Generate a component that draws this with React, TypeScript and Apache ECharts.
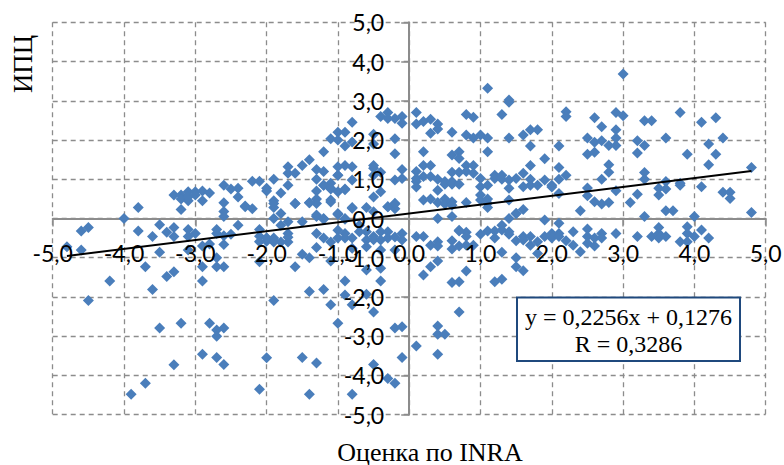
import React, { useEffect, useRef } from "react";
import * as echarts from "echarts";

type P = [number, number];

const AXIS_MIN = -5;
const AXIS_MAX = 5;
const X_TITLE = "Оценка по INRA";
const Y_TITLE = "ИПЦ";
const EQUATION = "y = 0,2256x + 0,1276";
const CORRELATION = "R = 0,3286";
const trendX = [-4.8, 4.8];
const trendY = [-0.955, 1.21];

const upperLeft: P[] = [
  [-4, 0], [-3.8, 0.28], [-3.2, 0.23], [-2.9, 0.45], [-3.3, 0.6], [-3.2, 0.6], [-3.2, 0.5], [-3.1, 0.68], [-3.1, 0.45], [-3.1, 0.55],
  [-3, 0.68], [-3, 0.6], [-2.9, 0.7], [-2.8, 0.65], [-2.6, 0.85], [-2.5, 0.75], [-2.4, 0.77], [-2.4, 0.55], [-2.6, 0.4], [-2.6, 0.18],
  [-2.6, 0.05], [-2.3, 0.3], [-2.2, 0.25], [-2.2, 0.95], [-2.1, 0.95], [-1.9, 1], [-2, 0.77], [-2, 0.7], [-1.9, 0.45], [-1.9, 0.28],
  [-1.9, 0], [-1.8, 0.65], [-1.7, 1.32], [-1.7, 1.15], [-1.6, 1.15], [-1.5, 1.35], [-1.4, 1.5], [-1.3, 1.25], [-1.3, 1], [-1.2, 1.2],
  [-1.2, 1.7], [-1.2, 0.85], [-1.1, 0.9], [-1.1, 0.75], [-1.3, 0.7], [-1.7, 0.85], [-1.9, 0.38], [-1.6, 0.38], [-1.4, 0.4], [-1.3, 0.5],
  [-1.3, 0.38], [-1.1, 0.47], [-1.1, 0.42], [-1, 0.68], [-0.9, 0.75], [-1, 1.1], [-1, 1.32], [-0.9, 1.35], [-0.8, 1.32], [-0.8, 0.98],
  [-1.1, 2.03], [-1, 2.2], [-1, 2], [-0.9, 2.2], [-0.9, 1.85], [-0.8, 2.45], [-0.8, 1.95], [-0.5, 2.15], [-0.5, 1.9], [-0.5, 1.35],
  [-0.5, 1.28], [-0.4, 1.18], [-0.4, 0.68], [-0.5, 0.55], [-0.4, 2.6], [-0.3, 2.7], [-0.3, 2.55], [-0.2, 2.55], [-0.1, 2.6], [-0.1, 2.43],
  [-0.2, 2.03], [-0.2, 1.65], [-0.1, 1.25], [-0.2, 0.98], [-0.1, 1.02], [-0.3, 0.3], [-0.2, 0.37], [-0.2, 0.25], [-0.6, 0.28], [-0.8, 0.28],
  [-1, 0.1], [-0.9, 0], [-1.3, 0.05], [-1.2, 0], [-2.3, 0.32], [-1.8, 0.13], [-1.4, 0.4], [-1.3, 0.09], [-1, 0.13], [-0.8, 0.26],
  [-0.5, 0.17], [-0.3, 0.3], [-0.2, 0.39], [-1.2, 0.85], [-1.1, 0.77], [-0.9, 0.73], [-0.5, 1.1], [-1, 1.1], [-1.6, 0.38],
];

const upperCentre: P[] = [
  [0.1, 2.7], [0.1, 2.41], [0.2, 2.47], [0.3, 2.53], [0.4, 2.41], [0.4, 2.28], [0.3, 2.17], [0.6, 2.2], [0.8, 2.65], [0.9, 2.58],
  [0.8, 2.13], [0.9, 2.05], [1, 2.13], [1.1, 2.05], [1.1, 3.32], [1.4, 3.02], [1.4, 2.96], [1.3, 2.65], [1.4, 2.05], [1.1, 1.7],
  [0.2, 1.7], [0.2, 1.35], [0.3, 1.35], [0.1, 1.2], [0.6, 1.62], [0.7, 1.7], [0.7, 1.53], [0.8, 1.35], [0.9, 1.35], [0.6, 1.18],
  [0.7, 1.18], [0.8, 1.2], [0.9, 1.15], [0.1, 1.02], [0.2, 1.07], [0.3, 1.07], [0.4, 1], [0.5, 0.94], [0.5, 0.87], [0.6, 0.94],
  [0.6, 0.87], [0.7, 0.87], [0.1, 0.94], [0.1, 0.8], [0.4, 0.72], [0.2, 0.47], [0.3, 0.5], [0.4, 0.41], [0.5, 0.5], [0.5, 0.37],
  [0.6, 0.43], [0.6, 0.34], [0.8, 0.41], [1, 1.02], [1, 0.81], [1.1, 0.85], [1, 0.6], [1, 0.47], [1.1, 0.5], [1.1, 0.39],
  [1.1, 0.28], [1.2, 1.1], [1.2, 1.02], [1.3, 1.1], [1.3, 1], [1.4, 0.98], [1.4, 0.77], [1.5, 1.02], [1.4, 0.47], [1.5, 0.13],
  [1.4, 0], [0.4, 0], [0.6, 0.05],
];

const upperRight: P[] = [
  [1.6, 2.13], [1.7, 2.26], [1.8, 2.26], [1.7, 1.85], [1.9, 1.52], [1.7, 1.35], [1.6, 1.15], [1.7, 1], [1.7, 0.85], [1.6, 0.81],
  [1.8, 0.85], [1.9, 0.98], [2, 0.85], [2, 0.8], [2.1, 1], [2.1, 1.3], [2.2, 1.1], [2.1, 1.85], [2.2, 2.72], [2.2, 2.6],
  [2.1, 0.64], [1.5, 0.13], [1.6, 0.23], [2.5, 0.78], [2.5, 0.58], [2.4, 0.2], [2.6, 0.43], [2.7, 0.37], [2.8, 0.41], [2.7, 1],
  [2.8, 1.18], [2.8, 1.37], [2.9, 0.71], [2.5, 1.64], [2.6, 1.69], [2.5, 2.05], [2.6, 1.94], [2.7, 1.98], [2.8, 1.86], [2.9, 1.86],
  [2.9, 2.05], [2.9, 2.26], [2.7, 2.34], [2.6, 2.57], [2.9, 2.7], [3, 2.62], [3, 3.68], [3.2, 1.98], [3.3, 1.86], [3.2, 1.67],
  [3.3, 2.49], [3.4, 2.49], [3.6, 2.05], [3.8, 2.7], [3.9, 1.64], [4.1, 2.45], [4.3, 2.57], [4.2, 1.9], [4.4, 2.05], [4.3, 1.64],
  [4.2, 1.37], [4.8, 1.3], [3.3, 1.17], [3.3, 1], [3.5, 0.77], [3.6, 0.94], [3.6, 0.75], [3.5, 0.6], [3.8, 0.9], [3.8, 0.85],
  [4.1, 0.81], [4.4, 0.67], [4.5, 0.67], [4.5, 0.51], [3.2, 0.62], [3.1, 0.41], [3.6, 0.2], [3.7, 0.2], [4, 0.05], [3.3, 0.05],
  [4.8, 0.15],
];

const lowerLeft: P[] = [
  [-4.5, -0.23], [-4.6, -0.32], [-4.8, -0.72], [-4.6, -0.8], [-4.2, -1.59], [-4.5, -2.09], [-3.8, -0.32], [-3.5, -0.16], [-3.6, -0.46], [-3.4, -0.35],
  [-3.3, -0.23], [-3.3, -0.46], [-3.1, -0.28], [-3.1, -0.46], [-3, -0.38], [-3.5, -0.86], [-3.7, -1.23], [-3.4, -1.48], [-3.3, -1.36], [-3.6, -1.81],
  [-3.1, -0.8], [-2.9, -0.7], [-2.8, -0.65], [-2.7, -0.28], [-2.7, -0.38], [-2.6, -0.44], [-2.5, -0.4], [-2.4, -0.17], [-2.6, -0.66], [-2.7, -1],
  [-2.9, -1.23], [-2.7, -1.23], [-2.6, -1.23], [-2.9, -1.59], [-2.1, -0.28], [-2.1, -0.45], [-2.1, -0.59], [-2, -0.5], [-2, -0.58], [-1.9, -0.57],
  [-2.1, -1.1], [-1.9, -2.09], [-3.5, -2.79], [-3.2, -2.67], [-2.8, -2.67], [-2.7, -2.84], [-2.6, -2.79], [-2.7, -3], [-2.9, -3.46], [-2.7, -3.54],
  [-2.6, -3.72], [-3.3, -3.73], [-3.7, -4.2], [-3.9, -4.48], [-2, -3.55], [-2.1, -4.35],
];

const lowerCentre: P[] = [
  [-2, -0.5], [-1.9, -0.5], [-1.9, -0.6], [-1.8, -0.6], [-1.8, -0.17], [-1.7, -0.38], [-1.7, -0.6], [-1.7, -0.48], [-1.7, -0.08], [-1.6, -1.23],
  [-1.5, -0.91], [-1.5, -0.08], [-1.4, -1], [-1.3, -0.74], [-1.3, -0.38], [-1.2, -0.5], [-1.2, -0.02], [-1.1, -0.6], [-1.1, -1.08], [-1, -0.3],
  [-1, -0.5], [-0.9, -0.38], [-0.9, -0.5], [-0.9, -0.02], [-0.8, -0.5], [-0.8, -0.76], [-0.7, -0.34], [-0.7, -0.17], [-0.6, -0.34], [-0.6, -0.55],
  [-0.6, -0.72], [-0.5, -0.46], [-0.5, -0.54], [-0.4, -0.34], [-0.4, -0.55], [-0.4, -0.8], [-0.3, -0.34], [-0.3, -0.5], [-0.2, -0.8], [-0.2, -0.47],
  [-0.1, -0.38], [-0.1, -0.55], [-0.4, -1.27], [-1.4, -1.86], [-1.2, -1.81], [-1.1, -2.2], [-1, -2.67], [-0.9, -1.59], [-0.9, -1.95], [-0.8, -2.2],
  [-0.6, -1.31], [-0.6, -1.93], [-0.5, -2.38], [-0.4, -1.59], [-0.2, -2.79], [-0.1, -2.76], [-0.1, -3.54], [-0.5, -3.72], [-0.3, -4.08], [-0.2, -4.2],
  [-0.8, -4.48], [-1.5, -3.54], [-1.3, -3.68], [-1.4, -4.48], [0.1, -3.25], [0.4, -3.46], [0.4, -2.74], [0.4, -2.95], [0.5, -2.95], [0.7, -2.38],
  [0.2, -1.44], [0.3, -1.23], [0.4, -1.08], [0.6, -1.63], [0.7, -1.61], [0.8, -1.34], [1.2, -1.61], [1.3, -1.55], [1.3, -0.86], [1.5, -1.23],
  [0.1, -0.46], [0.2, -0.46], [0.3, -0.68], [0.4, -0.59], [0.4, -0.7], [0.6, -0.57], [0.6, -0.78], [0.7, -0.32], [0.7, -0.7], [0.8, -0.35],
  [0.8, -0.46], [0.8, -0.68], [0.9, -0.68], [1, -0.4], [1.1, -0.32], [1.2, -0.32], [1.2, -0.5], [1.3, -0.29], [1.3, -0.17], [1.4, -0.4],
  [1.4, -0.34], [1.5, -0.57], [0.7, -0.3],
];

const lowerRight: P[] = [
  [1.5, -1], [1.6, -1.33], [1.9, -0.04], [2.1, -0.12], [2.3, -0.34], [2.5, -0.27], [2.9, -0.38], [3.2, -0.46], [3.4, -0.46], [3.5, -0.23],
  [3.5, -0.38], [3.5, -0.5], [3.6, -0.46], [3.9, -0.21], [3.9, -0.38], [3.8, -0.59], [3.9, -0.59], [4, -0.46], [4.1, -0.29], [4.2, -0.5],
  [1.6, -0.46], [1.6, -0.55], [1.7, -0.46], [1.7, -0.68], [1.8, -0.59], [1.9, -0.46], [2, -0.38], [2, -0.5], [2.1, -0.38], [2.1, -0.46],
  [2.2, -0.57], [2.3, -0.68], [2.4, -0.85], [1.8, -0.89], [2.5, -0.46], [2.5, -0.63], [2.6, -0.5], [2.6, -0.7], [2.7, -0.38], [2.7, -0.5],
];

const commaLabel = (v: number) => v.toFixed(1).replace(".", ",");
const GRID_COLOR = "#8c8c8c";
const LABEL_FONT = "Lato";
const SERIF = "Liberation Serif";

export default function App() {
  const ref = useRef<HTMLDivElement>(null);
  useEffect(() => {
    if (!ref.current) return;
    const chart = echarts.init(ref.current, undefined, { renderer: "svg" });
    const scale = { type: "value" as const, min: AXIS_MIN, max: AXIS_MAX, interval: 1 };
    const markAxis = {
      ...scale,
      z: 0,
      axisLine: { show: true, onZero: true, lineStyle: { color: GRID_COLOR, width: 2 } },
      axisTick: { show: true, length: 8, lineStyle: { color: GRID_COLOR, width: 1.5 } },
      axisLabel: { show: false },
      splitLine: { show: true, lineStyle: { color: GRID_COLOR, type: [5, 4], width: 1.3 } },
    };
    const labelAxis = {
      ...scale,
      z: 5,
      axisLine: { show: false, onZero: false },
      axisTick: { show: false },
      splitLine: { show: false },
    };
    chart.setOption({
      animation: false,
      backgroundColor: "#ffffff",
      grid: { left: 52.7, right: 18.3, top: 22.3, bottom: 50.3, containLabel: false, outerBoundsMode: "none" },
      xAxis: [
        { ...markAxis, position: "bottom" },
        {
          ...labelAxis,
          position: "top",
          offset: -196.2,
          axisLabel: { show: true, inside: true, margin: 23, fontFamily: LABEL_FONT, fontSize: 23, color: "#000", formatter: commaLabel },
        },
      ],
      yAxis: [
        { ...markAxis, position: "left" },
        {
          ...labelAxis,
          position: "right",
          offset: -356.5,
          axisLabel: { show: true, inside: true, margin: 25, fontFamily: LABEL_FONT, fontSize: 23, color: "#000", formatter: commaLabel },
        },
      ],
      series: [
        {
          type: "scatter",
          xAxisIndex: 0,
          yAxisIndex: 0,
          z: 2,
          symbol: "diamond",
          symbolSize: 11,
          itemStyle: { color: "#4a7ebb", opacity: 1 },
          data: [...upperLeft, ...upperCentre, ...upperRight, ...lowerLeft, ...lowerCentre, ...lowerRight],
        },
        {
          type: "line",
          xAxisIndex: 0,
          yAxisIndex: 0,
          z: 6,
          showSymbol: false,
          lineStyle: { color: "#000", width: 2 },
          data: trendX.map((x, i) => [x, trendY[i]]),
        },
      ],
      graphic: [
        {
          type: "rect",
          z: 10,
          shape: { x: 517, y: 297.5, width: 223, height: 63.5 },
          style: { fill: "#fff", stroke: "#1f497d", lineWidth: 2 },
        },
        {
          type: "text",
          z: 11,
          x: 628.5,
          y: 317,
          style: { text: EQUATION, fontFamily: SERIF, fontSize: 24, fill: "#000", align: "center", verticalAlign: "middle" },
        },
        {
          type: "text",
          z: 11,
          x: 628.5,
          y: 344,
          style: { text: CORRELATION, fontFamily: SERIF, fontSize: 24, fill: "#000", align: "center", verticalAlign: "middle" },
        },
        {
          type: "text",
          z: 11,
          x: 430,
          y: 452,
          style: { text: X_TITLE, fontFamily: SERIF, fontSize: 26, fill: "#000", align: "center", verticalAlign: "middle" },
        },
        {
          type: "text",
          z: 11,
          x: 23,
          y: 64,
          rotation: Math.PI / 2,
          style: { text: Y_TITLE, fontFamily: SERIF, fontSize: 26.8, fill: "#000", align: "center", verticalAlign: "middle" },
        },
      ],
    });
    return () => chart.dispose();
  }, []);
  return <div ref={ref} style={{ position: "fixed", left: 0, top: 0, width: 784, height: 465 }} />;
}
